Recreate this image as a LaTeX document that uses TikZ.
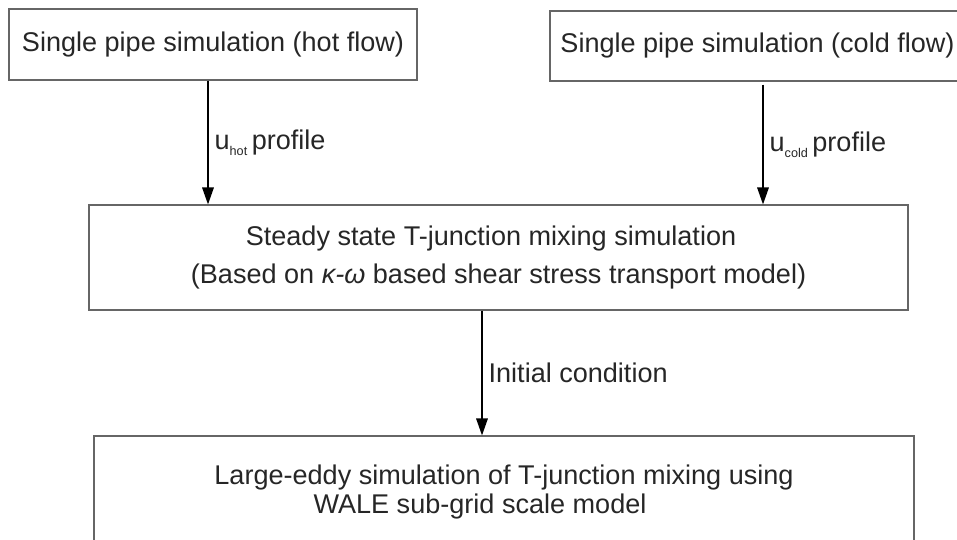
\documentclass[tikz,border=0pt]{standalone}
\usepackage{fontspec}
\setmainfont{Liberation Sans}
\usetikzlibrary{arrows.meta}
\newcommand{\flowsub}[1]{\raisebox{-0.22em}{\fontsize{7.2}{8}\selectfont #1}}

\begin{document}
\begin{tikzpicture}[
    box/.style={draw=black!60, line width=0.6pt, inner sep=0pt, align=center, text=black!85, font=\fontsize{15.4}{18.5}\selectfont},
    flow/.style={-{Triangle[length=3.4mm,width=2.3mm]}, line width=0.9pt},
    lab/.style={right, text=black!85, font=\fontsize{15.4}{18.5}\selectfont}]

    \clip (0,0) rectangle (19.14,-10.8);

    %% boxes
    \node[box, minimum width=8.16cm, minimum height=1.42cm] (hot) at (4.26,-0.89) {Single pipe simulation (hot flow)};
    \node[box, minimum width=8.3cm, minimum height=1.40cm] (cold) at (15.15,-0.92) {Single pipe simulation (cold flow)};
    \node[box, minimum width=16.38cm, minimum height=2.1cm] (steady) at (9.97,-5.15) {Steady state T-junction mixing simulation\hspace*{0.3cm}\\[3.6pt](Based on \textit{κ-ω} based shear stress transport model)};
    \node[box, minimum width=16.4cm, minimum height=2.24cm] (les) at (10.08,-9.84) {Large-eddy simulation of T-junction mixing using\\[-1.5pt]WALE sub-grid scale model\hspace*{0.96cm}};

    % arrows
    \draw[flow] ([xshift=-1mm]hot.south) -- ([xshift=-1mm]hot.south |- steady.north) node[lab, midway] {u\flowsub{hot}\,profile};
    \draw[flow] ([xshift=1.1mm,yshift=-0.6mm]cold.south) -- ([xshift=1.1mm]cold.south |- steady.north) node[lab, midway] {u\flowsub{cold}\,profile};
    \draw[flow] ([xshift=-3.3mm]steady.south) -- ([xshift=-3.3mm]steady.south |- les.north) node[lab, midway] {Initial condition};
\end{tikzpicture}
\end{document}
